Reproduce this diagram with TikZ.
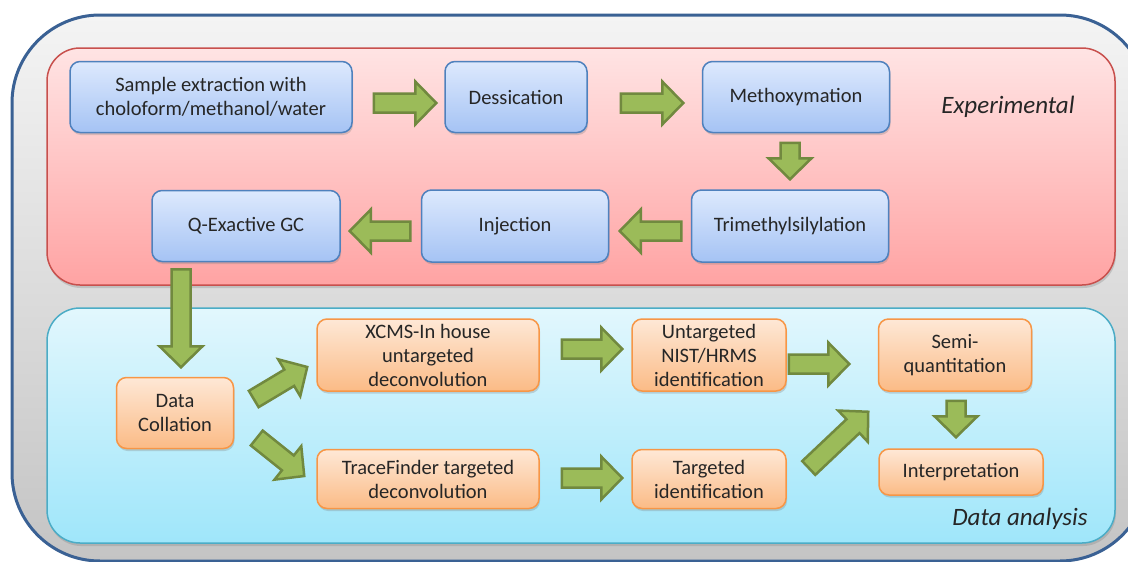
\documentclass[tikz,border=0pt]{standalone}
\usepackage{fontspec}
\setmainfont{Carlito}
\usetikzlibrary{calc,shadows}
\definecolor{txt}{HTML}{262626}
\definecolor{outerb}{HTML}{3A6194}
\definecolor{gtop}{HTML}{F4F4F4}
\definecolor{gbot}{HTML}{C4C4C4}
\definecolor{rtop}{HTML}{FFE4E4}
\definecolor{rbot}{HTML}{FFA3A3}
\definecolor{rbord}{HTML}{C8504D}
\definecolor{ctop}{HTML}{E2F7FD}
\definecolor{cbot}{HTML}{9FE6FA}
\definecolor{cbord}{HTML}{4BACC6}
\definecolor{btop}{HTML}{DDE9FD}
\definecolor{bbot}{HTML}{A5C3F4}
\definecolor{bbord}{HTML}{4F81BD}
\definecolor{otop}{HTML}{FEE8D6}
\definecolor{obot}{HTML}{FBBB86}
\definecolor{obord}{HTML}{F79646}
\definecolor{glight}{HTML}{9BBB59}
\definecolor{gdark}{HTML}{71893F}
\newcommand\fatarrow[2]{%
  \path (#1) coordinate (fa) (#2) coordinate (fb);
  \path ($(fb)!21pt!(fa)$) coordinate (fh);
  \draw[fatstyle] ($(fa)!9.5pt!90:(fb)$) -- ($(fh)!9.5pt!90:(fb)$) -- ($(fh)!21.5pt!90:(fb)$)
    -- (fb) -- ($(fh)!21.5pt!-90:(fb)$) -- ($(fh)!9.5pt!-90:(fb)$) -- ($(fa)!9.5pt!-90:(fb)$) -- cycle;
}
\begin{document}
\begin{tikzpicture}[x=1pt,y=-1pt,
  box/.style={rounded corners=10pt, line width=1.5pt, align=center,
    font=\fontsize{20.5}{24}\selectfont, text=txt, inner sep=2pt,
    drop shadow={shadow xshift=1pt, shadow yshift=-2.5pt, opacity=0.3}},
  bluebox/.style={box, draw=bbord, top color=btop, bottom color=bbot},
  orbox/.style={box, draw=obord, top color=otop, bottom color=obot},
  fatstyle/.style={draw=gdark, fill=glight, line width=2.5pt, line join=miter},
  section/.style={font=\fontsize{25}{29}\selectfont\itshape, text=txt, inner sep=0pt},
]
\useasboundingbox (0,0) rectangle (1128,562);
\clip (0,0) rectangle (1128,562);
% outer box
\draw[line width=3pt, draw=outerb, top color=gtop, bottom color=gbot, rounded corners=88pt]
  (12,15) rectangle (1148,561);
% section boxes
\draw[line width=1.5pt, draw=rbord, top color=rtop, bottom color=rbot, rounded corners=33pt,
  drop shadow={shadow xshift=1pt, shadow yshift=-3pt, opacity=0.3}] (47,48) rectangle (1115,285);
\draw[line width=1.5pt, draw=cbord, top color=ctop, bottom color=cbot, rounded corners=33pt,
  drop shadow={shadow xshift=1pt, shadow yshift=-3pt, opacity=0.3}] (47,308) rectangle (1115,543);
\node[section] (lexp) at (1008,107) {Experimental};
\node[section] (ldat) at (1020,519) {Data analysis};
% blue nodes
\node[bluebox, minimum width=282, minimum height=71] (s1) at (211,97) {Sample extraction with\\choloform/methanol/water};
\node[bluebox, minimum width=142, minimum height=71] (s2) at (516,97) {Dessication};
\node[bluebox, minimum width=187, minimum height=71] (s3) at (796,97) {Methoxymation};
\node[bluebox, minimum width=197, minimum height=72] (s4) at (790,226) {Trimethylsilylation};
\node[bluebox, minimum width=187, minimum height=72] (s5) at (515,226) {Injection};
\node[bluebox, minimum width=188, minimum height=71] (s6) at (246,226) {Q-Exactive GC};
% orange nodes
\node[orbox, minimum width=117, minimum height=71] (o1) at (175,413) {Data\\Collation};
\node[orbox, minimum width=222, minimum height=72] (o2) at (428,355) {XCMS-In house\\untargeted\\deconvolution};
\node[orbox, minimum width=222, minimum height=59] (o3) at (428,479) {TraceFinder targeted\\deconvolution};
\node[orbox, minimum width=154, minimum height=72] (o4) at (709,355) {Untargeted\\NIST/HRMS\\identification};
\node[orbox, minimum width=154, minimum height=59] (o5) at (709,479) {Targeted\\identification};
\node[orbox, minimum width=153, minimum height=72] (o6) at (955,355) {Semi-\\quantitation};
\node[orbox, minimum width=164, minimum height=46] (o7) at (961,472) {Interpretation};
% arrows
\fatarrow{$(s1.east)+(21,6)$}{$(s2.west)+(-8,6)$}
\fatarrow{$(s2.east)+(33,6)$}{$(s3.west)+(-18.5,6)$}
\fatarrow{$(s3.south)+(-6,9.5)$}{$(s4.north)+(0,-10)$}
\fatarrow{$(s4.west)+(-9.5,5)$}{$(s5.east)+(10.5,5)$}
\fatarrow{$(s5.west)+(-10.5,5)$}{$(s6.east)+(9,5)$}
\fatarrow{$(s6.south)+(-65,7)$}{$(o1.north)+(6,-9.5)$}
\fatarrow{$(o1.east)+(19.5,-14)$}{$(o2.west)+(-9,12)$}
\fatarrow{$(o1.east)+(22.5,25)$}{$(o3.west)+(-12,-3)$}
\fatarrow{$(o2.east)+(22,-6)$}{$(o4.west)+(-9,-6)$}
\fatarrow{$(o3.east)+(22,-1)$}{$(o5.west)+(-9,-1)$}
\fatarrow{$(o4.east)+(2,9)$}{$(o6.west)+(-28.5,9)$}
\fatarrow{$(o5.east)+(22,-11)$}{$(o6.south west)+(-9.5,20)$}
\fatarrow{$(o6.south)+(1,9)$}{$(o7.north)+(-5,-11)$}
\end{tikzpicture}
\end{document}
